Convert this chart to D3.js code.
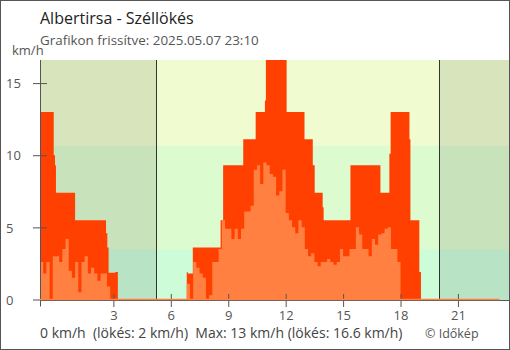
<!DOCTYPE html>
<html><head><meta charset="utf-8">
<script src="https://cdn.jsdelivr.net/npm/d3@7"></script>
<style>body{margin:0;background:#fff}svg{display:block;font-family:"Open Sans",sans-serif}</style>
</head><body><svg id="c" width="510" height="350"></svg>
<script>
// ---- texts ----
const titleText = "Albertirsa - Széllökés";
const subtitleText = "Grafikon frissítve: 2025.05.07 23:10";
const unitLabel = "km/h";
const summaryText = "0 km/h  (lökés: 2 km/h)  Max: 13 km/h (lökés: 16.6 km/h)";
const creditText = "© Időkép";

// ---- axes ----
const xTickHours = [3, 6, 9, 12, 15, 18, 21];
const yTicks = [0, 5, 10, 15];
const yMax = 16.6;
const domainStartMin = -50;     // 23:10 previous day
const domainEndMin = 1420;      // 23:40
const sunriseMin = 314;         // 05:14
const sunsetMin = 1202;         // 20:02
const bandLimits = [0, 3.5, 10.7, 16.6];
const dayColors = ["#ccfcd8", "#dcfcd0", "#f0fcd0"];
const nightColors = ["#b8e3c4", "#c8e3bb", "#d8e4bb"];

// ---- gust (lökés) steps: start minute, value km/h ----
const gustStartMin = [-50, -7, -3, 0, 60, 157, 161, 165, 186, 194, 410, 413, 429, 516, 524, 587, 626, 655, 658, 723, 779, 805, 811, 836, 839, 923, 1017, 1045, 1049, 1108, 1111, 1139, 1144];
const gustValue =    [13.0, 10.0, 9.3, 7.4, 5.5, 4.6, 3.6, 1.85, 1.9, 0, 1.9, 1.8, 3.6, 5.5, 9.3, 11.1, 13.0, 13.8, 16.6, 13.0, 11.1, 9.3, 7.4, 6.4, 5.5, 9.3, 7.4, 10.1, 13.0, 11.1, 5.5, 1.9, 0];
const dataEndMin = 1390;        // 23:10

// ---- wind speed, 10-minute values from 23:10 previous day ----
const windStartMin = -50, windStepMin = 10;
const windValue = [
  2.6, 1.8, 2.6, 0, 3.0, 3.0, 2.6, 3.5, 4.2, 2.0, 1.5, 2.6, 0.5, 2.6, 3.0, 1.8, 2.2, 1.8, 1.3, 1.8, 1.8, 0.9, 0, 0, 0,
  0, 0, 0, 0, 0, 0, 0, 0, 0, 0, 0, 0, 0, 0, 0, 0, 0, 0, 0, 0, 0,
  1.1, 0, 2.6, 2.2, 1.8, 1.5, 0, 0.3, 2.6, 2.6, 3.5, 5.5, 4.9, 4.9, 4.2, 4.9, 4.2, 4.9, 6.1, 6.1, 6.5, 9.0, 9.3, 8.0,
  9.5, 9.3, 8.7, 8.5, 7.2, 7.5, 9.0, 6.0, 5.5, 5.0, 4.6, 5.5, 5.0, 3.5, 3.0, 3.2, 2.6, 2.3, 2.6, 2.6, 2.8, 2.6, 2.4,
  2.6, 3.5, 3.0, 3.0, 3.5, 3.5, 5.0, 4.5, 3.5, 3.5, 3.0, 4.2, 3.8, 4.5, 4.6, 4.9, 5.0, 3.5, 3.5, 2.6,
  0, 0, 0, 0, 0, 0, 0, 0, 0, 0, 0, 0, 0, 0, 0, 0, 0, 0, 0, 0, 0, 0, 0, 0, 0, 0, 0, 0, 0, 0, 0
];

const gustColor = "#ff4000", windColor = "#ff8040", axisColor = "#555";

const svg = d3.select("#c");
const plotLeft = 40, plotRight = 509, plotTop = 60, plotBottom = 299.5;
const x = d3.scaleLinear().domain([domainStartMin, domainEndMin]).range([plotLeft, plotRight]);
const y = d3.scaleLinear().domain([0, yMax]).range([plotBottom, plotTop]);

// background bands
const periods = [
  {a: domainStartMin, b: sunriseMin, c: nightColors},
  {a: sunriseMin, b: sunsetMin, c: dayColors},
  {a: sunsetMin, b: domainEndMin, c: nightColors}
];
periods.forEach(p => {
  for (let i = 0; i < 3; i++) {
    svg.append("rect")
      .attr("x", x(p.a)).attr("width", x(p.b) - x(p.a))
      .attr("y", y(bandLimits[i + 1])).attr("height", y(bandLimits[i]) - y(bandLimits[i + 1]) + 0.5)
      .attr("fill", p.c[i]);
  }
});

// sunrise / sunset lines
[sunriseMin, sunsetMin].forEach(m => {
  svg.append("line").attr("x1", Math.round(x(m)) + 0.5).attr("x2", Math.round(x(m)) + 0.5)
    .attr("y1", plotTop).attr("y2", plotBottom).attr("stroke", "#333").attr("stroke-width", 1);
});

// gust area
const gustPts = gustStartMin.map((m, i) => ({m, v: gustValue[i]}));
gustPts.push({m: dataEndMin, v: 0});
const area = d3.area().curve(d3.curveStepAfter).x(d => x(d.m)).y0(y(0)).y1(d => y(d.v));
svg.append("path").datum(gustPts).attr("d", area).attr("fill", gustColor);

// wind area
const windPts = windValue.map((v, i) => ({m: windStartMin + i * windStepMin, v}));
windPts.push({m: dataEndMin, v: windValue[windValue.length - 1]});
svg.append("path").datum(windPts).attr("d", area).attr("fill", windColor);

// axes
const yAxis = svg.append("g").attr("transform", `translate(${plotLeft},0)`)
  .call(d3.axisLeft(y).tickValues(yTicks).tickSize(7).tickFormat(d3.format("d")));
yAxis.select(".domain").remove();
yAxis.selectAll(".tick line").attr("x1", 7).attr("x2", -7).attr("stroke", axisColor);
yAxis.selectAll(".tick text").attr("x", -34).attr("dy", "0.36em").attr("text-anchor", "start")
  .attr("fill", axisColor).style("font-size", "13px").style("font-family", "Open Sans");
svg.append("line").attr("x1", plotLeft + 0.5).attr("x2", plotLeft + 0.5).attr("y1", plotTop).attr("y2", 306.5)
  .attr("stroke", axisColor);

const xAxis = svg.append("g").attr("transform", `translate(0,300)`)
  .call(d3.axisBottom(x).tickValues(xTickHours.map(h => h * 60)).tickSize(7).tickFormat((d, i) => xTickHours[i]));
xAxis.select(".domain").attr("d", `M${plotLeft},0.5H${plotRight}`).attr("stroke", axisColor);
xAxis.selectAll(".tick line").attr("y1", -6).attr("y2", 7).attr("stroke", axisColor);
xAxis.selectAll(".tick text").attr("y", 10.5).attr("fill", axisColor)
  .style("font-size", "13px").style("font-family", "Open Sans");

// baseline of measurements
svg.append("line").attr("x1", x(windStartMin)).attr("x2", x(dataEndMin))
  .attr("y1", 299.6).attr("y2", 299.6).attr("stroke", windColor).attr("stroke-width", 1.5);

// frame
svg.append("rect").attr("x", 0.5).attr("y", 0.5).attr("width", 509).attr("height", 349)
  .attr("fill", "none").attr("stroke", "#555");

// texts
svg.append("text").attr("x", 40).attr("y", 24).attr("fill", "#222").style("font-size", "16px").text(titleText);
svg.append("text").attr("x", 40).attr("y", 45).attr("fill", "#555").style("font-size", "13.4px").text(subtitleText);
svg.append("text").attr("x", 12).attr("y", 54.5).attr("fill", "#555").style("font-size", "13px").text(unitLabel);
svg.append("text").attr("x", 40).attr("y", 338).attr("fill", "#444").style("font-size", "14px")
  .style("white-space", "pre").text(summaryText);
svg.append("text").attr("x", 425).attr("y", 337.5).attr("fill", "#555").style("font-size", "12.5px").text(creditText);
</script></body></html>
